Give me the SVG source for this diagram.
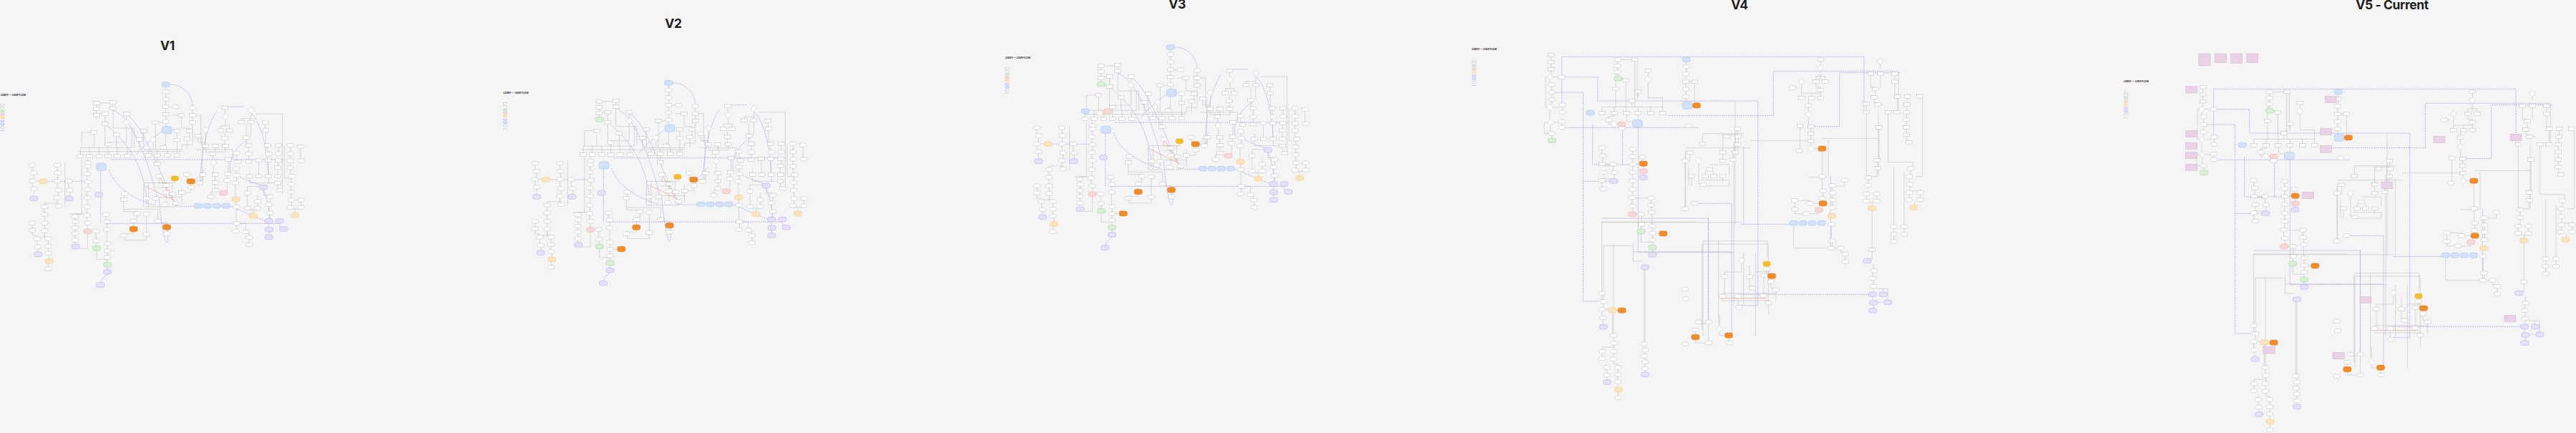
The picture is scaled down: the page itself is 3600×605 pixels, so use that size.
<svg xmlns="http://www.w3.org/2000/svg" xmlns:xlink="http://www.w3.org/1999/xlink" width="3600" height="605" viewBox="0 0 3600 605">
<defs>
<style>
.n{fill:#fff;stroke:#a2a2a2;stroke-width:1.1}
.g{fill:none;stroke:#acacac;stroke-width:1.3}
.p{fill:none;stroke:#a79fe4;stroke-width:2.2;stroke-dasharray:6 3}
.o{fill:none;stroke:#e79272;stroke-width:1.6}
.bl{fill:#d3e2fb;stroke:#8fb1ec;stroke-width:1.2}
.pu{fill:#e6e0fb;stroke:#a596e8;stroke-width:1.2}
.og{fill:#f28c28;stroke:#e0761a;stroke-width:1.2}
.lo{fill:#fde4bd;stroke:#f1bd6c;stroke-width:1.2}
.gr{fill:#d9f0d7;stroke:#89c787;stroke-width:1.2}
.pk{fill:#f9d6d8;stroke:#e6a0a6;stroke-width:1.2}
.ye{fill:#f5bd28;stroke:#e0a716;stroke-width:1.2}
.nt{fill:#ead2e6;stroke:#cfa9c9;stroke-width:1.2}
.tt{font-family:Inter,"Liberation Sans",sans-serif;font-weight:700;font-size:17.5px;letter-spacing:-0.4px;fill:#1e1e1e;text-anchor:middle}
.lt{font-family:Inter,"Liberation Sans",sans-serif;font-weight:700;font-size:10px;fill:#333}
</style>
<rect id="sR" class="n" x="-13" y="-7" width="26" height="14"/>
<rect id="sE" class="n" x="-14" y="-8" width="28" height="16" rx="7"/>
<polygon id="sD" class="n" points="0,-14 14,0 0,14 -14,0"/>
<rect id="sB" class="bl" x="-17" y="-10" width="34" height="20" rx="9"/>
<rect id="sBB" class="bl" x="-21" y="-15" width="42" height="30" rx="10"/>
<rect id="sU" class="pu" x="-17" y="-10" width="34" height="20" rx="9"/>
<rect id="sO" class="og" x="-17" y="-11" width="34" height="22" rx="9"/>
<rect id="sL" class="lo" x="-17" y="-10" width="34" height="20" rx="9"/>
<rect id="sG" class="gr" x="-17" y="-10" width="34" height="20" rx="9"/>
<rect id="sK" class="pk" x="-17" y="-10" width="34" height="20" rx="9"/>
<rect id="sY" class="ye" x="-15" y="-10" width="30" height="20" rx="7"/>
</defs>
<rect width="3600" height="605" fill="#f5f5f5"/>
<g id="titles">
<text class="tt" x="234" y="70">V1</text>
<text class="tt" x="941" y="39">V2</text>
<text class="tt" x="1645" y="12">V3</text>
<text class="tt" x="2431" y="13">V4</text>
<text class="tt" x="3343" y="13">V5 - Current</text>
</g>

<g id="v2" transform="translate(690,20) scale(0.33333)">
<g id="v2-connectors">
<path class="g" d="M733,297V310M733,326V341M733,357V374M733,388V405M733,419V435M733,451V463M747,381H761M845,393V409M845,423V440M798,423V470H832V475M832,489V507H822M780,489V513M780,527V560M822,521V560M733,493V560M640,560H800M660,560V578M698,560V578M740,560V578M780,560V578M698,592V613M690,454V560M640,489V560M623,525V560M680,532V560M723,545V540H733M705,447H733M845,454V540H800V560M760,416H785M860,416H880V540"/>
<path class="g" d="M442,372V383M442,397V408M442,422V433M512,369V380M478,417V445M455,410H465M568,417V432M568,460V530H490M375,552H590M375,552V581M413,552V581M453,552V581M491,552V581M530,552V581M571,552V581M432,495V552M526,505V552M490,545V552M512,394V470H600V552M478,459V540M370,568H800M455,365H499M420,488H380V552M590,552V470"/>
<path class="g" d="M981,392V408M983,436V460H963V473M983,460H1000V473M980,487V506M900,492V538M885,505V690M868,509V530H900M900,552V570H930M940,552V570M983,552V570H930M930,585V601M933,629V658M888,672V690H875M940,672V691M940,705V723M940,737H922V750M995,609V655M993,669V683M990,697V735H975M980,520V540H983M860,560H1015V600"/>
<path class="g" d="M1091,409V430H1050V438M1091,430H1090V438M1070,452V503M1070,517V536H1080M1080,550V571M1080,585V603M1090,452V503M1110,410H1222V742M1150,454V473M1152,487V536H1160M1160,550V571H1165M1205,550V570M1122,613V665M1162,613V665M1204,613V629M1202,643V665M1202,707V723H1212M1085,650V665M1085,679V700H1202M1028,582V605H1035M1028,647V661M1030,675V693M1025,707V761M1027,776V793M1028,807V863M1030,877V895M1030,870H1068V898M1068,912H1083V921M1083,935V951"/>
<path class="g" d="M1255,550V570M1255,584V600M1255,614V630M1255,644V665H1262M1258,679V698M1258,712V731M1258,745V765M1260,779V795M1300,779V795M1297,555V600M1275,809V825M1255,809H1300M1280,772H1300V765M1280,543H1297M1230,543V680H1262M1142,728V750H1170M1170,765V783M1165,797V819M1170,833V852M1165,870V888M1166,902V920M1210,870V885H1227M1075,749V799M1118,784V799M1075,813H1118M1100,813V830M1075,735V715H1140M1118,770V750"/>
<path class="g" d="M705,680V700H735V703M735,717V733M652,772V790M690,772V788M640,705V800M660,700V800M800,715V790M760,700V760M700,760H800M640,700H770M771,690V700M838,703V740H800M820,672V686H838M854,693H875M735,747V783M775,792V800H640M700,720H740M560,752V763M556,777V820H613M613,835V852H598M598,867V885M598,901V912H556M652,837V908M700,867H737V877M556,810H700V853M737,895V905M652,923V940H560V927"/>
<path class="g" d="M173,632V651M180,665V685M173,699V718M180,732V758M278,632V651M280,665V685M278,699V723H283M283,737V755M325,699V723H330M330,737V758H328M187,692H202M173,625H160M224,807V825M224,839V861M225,875V893M173,875V891M193,941V961H197M240,941V958M197,975V992M240,972V988M244,1002V1021M240,1035V1053M278,769V790H283M310,615V800M224,793V785H283M224,915V927H193M225,907V927H240M173,905V920H193M405,637V655M403,669V688M407,702V721M403,735V755M405,769V793M403,807V828M401,842V861M405,875V895M405,910V975H370M353,847V855M355,869V881M353,895V905M353,919V933M353,947V958M330,830H405M486,869V888M482,839V855M486,902V948M488,962V978M488,992V1005M488,1019V1036M488,1053V1066M440,909V936M442,950V966M443,983V1020H488M502,984H518M380,600V830H353M405,623V600"/>
<path class="p" d="M500,602H1230M480,870H1210M750,287C800,285 845,330 845,378M478,452C560,520 630,600 652,758M512,395C600,430 660,620 700,770M578,420C640,470 700,640 770,782M495,645C520,720 600,770 690,795M740,462C700,500 640,540 610,580M705,770C712,860 728,950 737,950C746,950 742,880 737,870M1005,655C990,590 1040,540 1080,515M1095,410C1140,470 1160,560 1165,700M1142,728C1160,780 1172,820 1165,852M1000,796C1060,820 1120,850 1150,858M945,400C900,470 880,590 878,690M233,693H390M460,648V870M459,1117C470,1095 480,1090 488,1083M1142,718C1120,700 1060,690 1040,670M990,380H1060M840,700C860,690 880,660 900,640M860,796C820,800 780,800 760,790"/>
<path class="o" d="M650,715L770,775M710,680L760,770"/>
</g>
<g id="v2-nodes">
<use id="a1" href="#sB" x="733" y="287"/><use id="a2" href="#sE" x="733" y="318"/><use id="a3" href="#sE" x="733" y="349"/><use id="a4" href="#sR" x="733" y="381"/><use id="a5" href="#sE" x="775" y="381"/><use id="a6" href="#sR" x="733" y="412"/><use id="a7" href="#sE" x="733" y="443"/><use id="a8" href="#sBB" x="738" y="478"/><use id="a9" href="#sE" x="845" y="385"/><use id="a10" href="#sR" x="845" y="416"/><use id="a11" href="#sR" x="845" y="447"/><use id="a12" href="#sR" x="798" y="416"/><use id="a13" href="#sR" x="832" y="482"/><use id="a14" href="#sR" x="822" y="514"/><use id="a15" href="#sR" x="780" y="482"/><use id="a16" href="#sR" x="780" y="520"/><use id="a17" href="#sR" x="690" y="447"/><use id="a18" href="#sR" x="640" y="482"/><use id="a19" href="#sD" x="680" y="518"/><use id="a20" href="#sR" x="623" y="518"/><use id="a21" href="#sR" x="723" y="552"/><use id="a22" href="#sR" x="660" y="585"/><use id="a23" href="#sR" x="698" y="585"/><use id="a24" href="#sR" x="740" y="585"/><use id="a25" href="#sR" x="780" y="585"/><use id="a26" href="#sR" x="698" y="620"/>
<use id="a27" href="#sR" x="442" y="365"/><use id="a28" href="#sR" x="512" y="362"/><use id="a29" href="#sR" x="442" y="390"/><use id="a30" href="#sR" x="512" y="387"/><use id="a31" href="#sR" x="442" y="415"/><use id="a32" href="#sR" x="478" y="410"/><use id="a33" href="#sR" x="478" y="452"/><use id="a34" href="#sR" x="568" y="410"/><use id="a35" href="#sD" x="568" y="446"/><use id="a36" href="#sR" x="432" y="488"/><use id="a37" href="#sR" x="526" y="498"/><use id="a38" href="#sR" x="490" y="538"/><use id="a39" href="#sR" x="375" y="588"/><use id="a40" href="#sR" x="413" y="588"/><use id="a41" href="#sR" x="453" y="588"/><use id="a42" href="#sR" x="491" y="588"/><use id="a43" href="#sR" x="530" y="588"/><use id="a44" href="#sR" x="571" y="588"/><use id="a45" href="#sE" x="407" y="615"/>
<use id="a46" href="#sR" x="981" y="385"/><use id="a47" href="#sD" x="983" y="422"/><use id="a48" href="#sR" x="963" y="480"/><use id="a49" href="#sR" x="1000" y="480"/><use id="a50" href="#sR" x="980" y="513"/><use id="a51" href="#sD" x="900" y="478"/><use id="a52" href="#sR" x="868" y="502"/><use id="a53" href="#sR" x="900" y="545"/><use id="a54" href="#sR" x="940" y="545"/><use id="a55" href="#sR" x="983" y="545"/><use id="a56" href="#sR" x="930" y="578"/><use id="a57" href="#sD" x="933" y="615"/><use id="a58" href="#sR" x="888" y="665"/><use id="a59" href="#sR" x="940" y="665"/><use id="a60" href="#sR" x="940" y="698"/><use id="a61" href="#sR" x="940" y="730"/><use id="a62" href="#sE" x="922" y="758"/><use id="a63" href="#sE" x="875" y="700"/><use id="a64" href="#sR" x="995" y="602"/><use id="a65" href="#sR" x="993" y="662"/><use id="a66" href="#sE" x="990" y="690"/><use id="a67" href="#sK" x="975" y="742"/><use id="a68" href="#sE" x="1028" y="575"/><use id="a69" href="#sR" x="1035" y="612"/><use id="a70" href="#sE" x="1028" y="640"/><use id="a71" href="#sE" x="1030" y="668"/><use id="a72" href="#sE" x="1025" y="700"/><use id="a73" href="#sL" x="1027" y="768"/><use id="a74" href="#sE" x="1028" y="800"/><use id="a75" href="#sE" x="1030" y="870"/><use id="a76" href="#sE" x="1027" y="902"/>
<use id="a77" href="#sD" x="1091" y="395"/><use id="a78" href="#sR" x="1050" y="445"/><use id="a79" href="#sR" x="1090" y="445"/><use id="a80" href="#sR" x="1070" y="510"/><use id="a81" href="#sR" x="1080" y="543"/><use id="a82" href="#sE" x="1080" y="578"/><use id="a83" href="#sR" x="1080" y="610"/><use id="a84" href="#sR" x="1150" y="447"/><use id="a85" href="#sR" x="1152" y="480"/><use id="a86" href="#sR" x="1160" y="543"/><use id="a87" href="#sR" x="1205" y="543"/><use id="a88" href="#sE" x="1165" y="578"/><use id="a89" href="#sE" x="1205" y="577"/><use id="a90" href="#sR" x="1122" y="606"/><use id="a91" href="#sR" x="1162" y="606"/><use id="a92" href="#sR" x="1204" y="606"/><use id="a93" href="#sR" x="1085" y="672"/><use id="a94" href="#sR" x="1124" y="672"/><use id="a95" href="#sR" x="1163" y="672"/><use id="a96" href="#sR" x="1203" y="672"/><use id="a97" href="#sR" x="1202" y="636"/><use id="a98" href="#sR" x="1202" y="700"/><use id="a99" href="#sR" x="1212" y="730"/>
<use id="a100" href="#sE" x="1255" y="543"/><use id="a101" href="#sE" x="1297" y="548"/><use id="a102" href="#sE" x="1255" y="577"/><use id="a103" href="#sE" x="1300" y="607"/><use id="a104" href="#sE" x="1255" y="607"/><use id="a105" href="#sE" x="1255" y="637"/><use id="a106" href="#sE" x="1262" y="672"/><use id="a107" href="#sE" x="1258" y="705"/><use id="a108" href="#sE" x="1258" y="738"/><use id="a109" href="#sE" x="1260" y="772"/><use id="a110" href="#sE" x="1300" y="772"/><use id="a111" href="#sE" x="1255" y="802"/><use id="a112" href="#sE" x="1300" y="802"/><use id="a113" href="#sL" x="1275" y="835"/>
<use id="a114" href="#sU" x="1142" y="718"/><use id="a115" href="#sE" x="1170" y="758"/><use id="a116" href="#sE" x="1165" y="790"/><use id="a117" href="#sE" x="1170" y="826"/><use id="a118" href="#sU" x="1165" y="860"/><use id="a119" href="#sU" x="1210" y="860"/><use id="a120" href="#sU" x="1166" y="895"/><use id="a121" href="#sU" x="1227" y="893"/><use id="a122" href="#sU" x="1165" y="927"/><use id="a123" href="#sE" x="1075" y="742"/><use id="a124" href="#sE" x="1118" y="777"/><use id="a125" href="#sE" x="1075" y="806"/><use id="a126" href="#sE" x="1118" y="806"/><use id="a127" href="#sL" x="1100" y="838"/><use id="a128" href="#sE" x="1068" y="905"/><use id="a129" href="#sE" x="1083" y="928"/><use id="a130" href="#sE" x="1083" y="958"/>
<use id="a131" href="#sB" x="869" y="796"/><use id="a132" href="#sB" x="907" y="796"/><use id="a133" href="#sB" x="946" y="796"/><use id="a134" href="#sB" x="985" y="796"/>
<use id="a135" href="#sE" x="705" y="672"/><use id="a136" href="#sY" x="771" y="681"/><use id="a137" href="#sO" x="838" y="693"/><use id="a138" href="#sE" x="820" y="665"/><use id="a139" href="#sR" x="735" y="710"/><use id="a140" href="#sE" x="735" y="740"/><use id="a141" href="#sE" x="690" y="765"/><use id="a142" href="#sR" x="652" y="765"/><use id="a143" href="#sE" x="730" y="790"/><use id="a144" href="#sE" x="775" y="785"/><use id="a145" href="#sR" x="762" y="745"/><use id="a146" href="#sR" x="800" y="740"/><use id="a147" href="#sE" x="840" y="718"/><use id="a148" href="#sE" x="560" y="745"/><use id="a149" href="#sR" x="556" y="770"/><use id="a150" href="#sE" x="613" y="828"/><use id="a151" href="#sE" x="652" y="830"/><use id="a152" href="#sE" x="598" y="860"/><use id="a153" href="#sO" x="598" y="893"/><use id="a154" href="#sE" x="556" y="920"/><use id="a155" href="#sE" x="652" y="915"/><use id="a156" href="#sE" x="700" y="860"/><use id="a157" href="#sO" x="737" y="885"/><use id="a158" href="#sE" x="737" y="913"/>
<use id="a159" href="#sE" x="173" y="625"/><use id="a160" href="#sE" x="278" y="625"/><use id="a161" href="#sE" x="180" y="658"/><use id="a162" href="#sE" x="280" y="658"/><use id="a163" href="#sE" x="173" y="692"/><use id="a164" href="#sL" x="219" y="693"/><use id="a165" href="#sE" x="278" y="692"/><use id="a166" href="#sE" x="325" y="692"/><use id="a167" href="#sE" x="180" y="725"/><use id="a168" href="#sE" x="283" y="730"/><use id="a169" href="#sE" x="330" y="730"/><use id="a170" href="#sU" x="180" y="765"/><use id="a171" href="#sE" x="278" y="762"/><use id="a172" href="#sU" x="328" y="765"/><use id="a173" href="#sE" x="283" y="797"/><use id="a174" href="#sE" x="224" y="800"/><use id="a175" href="#sE" x="224" y="832"/><use id="a176" href="#sE" x="225" y="868"/><use id="a177" href="#sE" x="173" y="868"/><use id="a178" href="#sE" x="173" y="898"/><use id="a179" href="#sE" x="225" y="900"/><use id="a180" href="#sE" x="193" y="934"/><use id="a181" href="#sE" x="240" y="934"/><use id="a182" href="#sE" x="197" y="968"/><use id="a183" href="#sE" x="240" y="965"/><use id="a184" href="#sU" x="197" y="999"/><use id="a185" href="#sE" x="240" y="995"/><use id="a186" href="#sL" x="244" y="1028"/><use id="a187" href="#sE" x="240" y="1060"/>
<use id="a188" href="#sE" x="405" y="630"/><use id="a189" href="#sE" x="403" y="662"/><use id="a190" href="#sE" x="407" y="695"/><use id="a191" href="#sE" x="403" y="728"/><use id="a192" href="#sE" x="405" y="762"/><use id="a193" href="#sE" x="403" y="800"/><use id="a194" href="#sE" x="401" y="835"/><use id="a195" href="#sE" x="405" y="868"/><use id="a196" href="#sK" x="405" y="903"/><use id="a197" href="#sBB" x="462" y="633"/><use id="a198" href="#sU" x="452" y="749"/><use id="a199" href="#sE" x="353" y="840"/><use id="a200" href="#sE" x="355" y="862"/><use id="a201" href="#sE" x="353" y="888"/><use id="a202" href="#sE" x="353" y="912"/><use id="a203" href="#sE" x="353" y="940"/><use id="a204" href="#sU" x="355" y="966"/><use id="a205" href="#sE" x="482" y="832"/><use id="a206" href="#sE" x="486" y="862"/><use id="a207" href="#sE" x="486" y="895"/><use id="a208" href="#sE" x="440" y="902"/><use id="a209" href="#sE" x="442" y="943"/><use id="a210" href="#sG" x="443" y="973"/><use id="a211" href="#sE" x="488" y="955"/><use id="a212" href="#sE" x="488" y="985"/><use id="a213" href="#sE" x="488" y="1012"/><use id="a214" href="#sG" x="488" y="1043"/><use id="a215" href="#sU" x="488" y="1073"/><use id="a216" href="#sU" x="459" y="1127"/>
</g>
<g id="v2-legend">
<text class="lt" x="40" y="334">LOBBY — USER FLOW</text>
<rect class="n" x="40" y="371" width="16" height="8"/>
<rect class="n" x="40" y="384" width="16" height="8" rx="4"/>
<rect class="gr" x="40" y="397" width="16" height="8" rx="3"/>
<rect class="pk" x="40" y="410" width="16" height="8" rx="3"/>
<rect class="lo" x="40" y="423" width="16" height="8" rx="3"/>
<rect class="pu" x="40" y="437" width="16" height="8" rx="3"/>
<rect class="bl" x="40" y="450" width="16" height="8" rx="3"/>
<rect class="n" x="40" y="463" width="16" height="8" rx="4"/>
<path class="p" d="M40,480H56"/>
</g>
</g>
<use id="v1" href="#v2" transform="translate(-702.6,2.3)"/>
<use id="v3" href="#v2" transform="translate(701.4,-49.7)"/>
<g id="v2-extra" transform="translate(690,20) scale(0.33333)">
<use id="b1" href="#sG" x="443" y="441"/><use id="b2" href="#sO" x="535" y="984"/>
</g>
<g id="v3-extra" transform="translate(1391.4,-29.7) scale(0.33333)">
<use id="c1" href="#sG" x="443" y="441"/><use id="c2" href="#sO" x="535" y="984"/><use id="c3" href="#sB" x="376" y="555"/><use id="c4" href="#sK" x="469" y="555"/><use id="c5" href="#sD" x="436" y="564"/>
</g>

<g id="v4" transform="translate(2040,60) scale(0.33333)">
<g id="v4-connectors">
<path class="g" d="M383,57V73M383,87V103M383,117V129M378,157V167M392,143H414M386,182V199M386,215V230M386,246V256M392,270H416M430,267V282M378,284V319M394,333H414M428,338V346M380,347V372M386,387V399M370,143H360V270H364M366,333H355V380H372"/>
<path class="g" d="M662,77V88M662,104V114M662,130V139M680,149H684V157M676,70H721M734,77V268M745,77V236M790,123V138M790,166V230H851V268M654,186V130H662M654,200V268M697,164V268M748,211V225M722,250V268M596,268H851M596,268V287M648,268V287M698,268V287M748,268V287M800,268V287M851,268V287M625,316V308H648V301M625,330V340H633M700,301V330H724M748,301V323M950,80V92M950,108V122M948,137V156M948,170V187M948,201V218M948,232V247M962,163H972M985,170V250H993"/>
<path class="g" d="M1165,367V385M1168,399V418M1121,399V385H1165M1018,380H1190M1018,380V415M1103,380V451M1155,380V451M1103,465V487M1145,465V484M1048,510H1130V553M1065,537V553M1030,537V555M1002,509V590H1021M1010,575H1130V600H1021M1102,580V553M949,440H1217M945,467V488M965,467V500M960,520V600M945,502V688M972,566V600M1165,432V470M1190,432V760"/>
<path class="g" d="M596,750H990M596,750V1043M603,850H720M603,850V1077M645,840V1218M727,840V915H770M726,875H1136M593,752H1180M1042,731V1170M1149,420V1095M1294,849V1090M1016,843V1202M947,452V699M1023,843H1294M772,950V1255M777,950V1380"/>
<path class="g" d="M596,447V466M600,480V501M597,515H643M603,550V570M596,584V605M610,508H629M725,452V469M725,483V501M725,515V535M725,549V571M725,585V606M725,620V641M722,655V677M726,691V711M737,718H746M802,657V673M802,687H805V703M805,717V760M762,725V753M760,767V780M808,774V790M808,804V819M808,833V847M808,867V878M760,800V835H808M824,799H836M770,517V528M770,548V554M740,508H753M766,485V495M739,650H788M643,515V535M648,550V570H603"/>
<path class="g" d="M596,1057V1076M603,1091V1109M596,1124V1144M600,1159V1180M611,1117H623M657,1120H663M645,1233V1251M647,1266V1285M645,1300V1317M597,1300V1315M597,1286V1275H647M645,1332V1345H663V1352M615,1345V1352M615,1367V1384M663,1367V1382M618,1399V1412M663,1397V1412M663,1427V1443M665,1463V1479M640,1130V1218M603,1077H586"/>
<path class="g" d="M1513,77V91M1512,119V155M1494,140H1532M1494,140V155M1532,140V155M1433,176V223M1494,169V185H1513V190M1513,204V223M1475,210V223M1434,210H1513M1462,237V255M1462,269V285M1462,313V343H1473M1472,357V373M1472,387V403M1472,417V429M1488,443H1502M1519,453V553M1427,355V445M1520,567V613M1523,627V644M1520,658V666M1563,605V621M1563,635V651M1563,665V683M1558,767V823M1562,837V853M1575,860H1597M1597,867V878H1617M1617,892V910M1405,668V690M1419,661H1467V666M1481,673H1506M1506,710V716H1467M1405,704V716H1439M1463,563H1540M1613,582V600H1577M1220,410H1465M1520,400H1755M1755,290V560M1155,245V760M1395,188H1420M1540,410H1545V560M1400,770V860H1560"/>
<path class="g" d="M1763,91V110M1723,137V186H1743M1764,135V186M1743,200V221H1737M1737,235V251H1753M1705,262V283M1705,297V558H1713M1713,572V590M1713,604V626H1705M1705,640V656M1748,640V656M1705,670H1748M1729,670V683M1729,703V859M1729,873V905H1708M1735,925V948M1732,962V980M1734,994V1013M1734,1027V1044M1731,1064V1079M1735,1099V1112M1795,1030V1077M1748,1030H1795M1776,1030V1044M1751,1087H1778M1824,137V156M1824,170V218H1835M1835,232V283M1877,232V251M1875,265V283M1873,297V315M1873,329V347M1873,361V378M1873,392V409H1883M1796,297V500H1900V520M1758,361V485H1750M1753,499V518M1750,532V560H1713M1890,534V553M1885,567V585M1887,599V620M1931,612V620H1887M1885,634V650M1931,634V650M1907,664V683M1940,232V560H1910M1820,777V795M1863,777V795M1820,809V825M1820,520V763M1863,540V763M1840,118V290M1753,258H1778M1747,128H1764M1808,128H1824"/>
<path class="g" d="M1181,922V960H1110V973M1215,987V1021H1228M1287,936V941M1287,955V968H1308M1275,982V1053M1305,1007V1028H1325M1102,1069V1080H1300M1168,1069V1101M1295,1097V1140M1110,987V1055M1325,1042V1080M1100,1050H1325M1215,930V973M1240,960H1300M1002,1177H1043M988,1210V1225M1043,1177V1250M1090,1214V1226H1115M1128,1236V1250M988,1241V1257H1043M1090,1186V1140M1190,880V1100M1240,880V1230M1020,830H1290V900M1020,830V1230M1085,830V1180"/>
<path class="o" d="M1090,1070H1285"/>
<path class="p" d="M428,250V58H1695V290M1835,118H1315V305H871M578,143V243H1250V1100H1180M445,143H578M400,207H517V1083H586M557,343V510H712M445,355H1000M683,360V510M517,580H629M748,350V878H1150M596,735H1043V1170M985,673H1140V1226M1180,760H1383M1170,1054H1714M1555,560V860M1470,350H1592V125H1850"/>
</g>
<g id="v4-nodes">
<use id="d1" href="#sR" x="383" y="50"/><use id="d2" href="#sR" x="383" y="80"/><use id="d3" href="#sR" x="383" y="110"/><use id="d4" href="#sD" x="378" y="143"/><use id="d5" href="#sE" x="428" y="143"/><use id="d6" href="#sE" x="386" y="175"/><use id="d7" href="#sE" x="386" y="207"/><use id="d8" href="#sE" x="386" y="238"/><use id="d9" href="#sD" x="378" y="270"/><use id="d10" href="#sE" x="430" y="260"/><use id="d11" href="#sE" x="430" y="290"/><use id="d12" href="#sD" x="380" y="333"/><use id="d13" href="#sE" x="428" y="330"/><use id="d14" href="#sE" x="428" y="354"/><use id="d15" href="#sE" x="386" y="380"/><use id="d16" href="#sG" x="387" y="409"/>
<use id="d17" href="#sE" x="662" y="70"/><use id="d18" href="#sR" x="734" y="70"/><use id="d19" href="#sE" x="662" y="96"/><use id="d20" href="#sE" x="662" y="122"/><use id="d21" href="#sG" x="663" y="149"/><use id="d22" href="#sR" x="697" y="157"/><use id="d23" href="#sR" x="654" y="193"/><use id="d24" href="#sR" x="790" y="116"/><use id="d25" href="#sD" x="790" y="152"/><use id="d26" href="#sR" x="748" y="204"/><use id="d27" href="#sR" x="722" y="243"/>
<use id="d28" href="#sB" x="548" y="293"/><use id="d29" href="#sR" x="596" y="294"/><use id="d30" href="#sR" x="648" y="294"/><use id="d31" href="#sR" x="698" y="294"/><use id="d32" href="#sR" x="748" y="294"/><use id="d33" href="#sR" x="800" y="294"/><use id="d34" href="#sR" x="851" y="294"/><use id="d35" href="#sE" x="625" y="323"/><use id="d36" href="#sD" x="647" y="340"/><use id="d37" href="#sK" x="679" y="341"/><use id="d38" href="#sE" x="680" y="358"/><use id="d39" href="#sBB" x="745" y="338"/>
<use id="d40" href="#sB" x="950" y="70"/><use id="d41" href="#sE" x="950" y="100"/><use id="d42" href="#sE" x="948" y="130"/><use id="d43" href="#sR" x="948" y="163"/><use id="d44" href="#sR" x="985" y="163"/><use id="d45" href="#sE" x="948" y="194"/><use id="d46" href="#sE" x="948" y="225"/><use id="d47" href="#sBB" x="954" y="262"/><use id="d48" href="#sO" x="993" y="262"/>
<use id="d49" href="#sR" x="1165" y="360"/><use id="d50" href="#sR" x="1168" y="392"/><use id="d51" href="#sR" x="1165" y="425"/><use id="d52" href="#sR" x="1121" y="392"/><use id="d53" href="#sR" x="1018" y="422"/><use id="d54" href="#sR" x="1103" y="458"/><use id="d55" href="#sR" x="1155" y="458"/><use id="d56" href="#sR" x="1103" y="494"/><use id="d57" href="#sR" x="1145" y="490"/><use id="d58" href="#sD" x="1002" y="495"/><use id="d59" href="#sR" x="1048" y="530"/><use id="d60" href="#sR" x="972" y="559"/><use id="d61" href="#sR" x="1030" y="559"/><use id="d62" href="#sR" x="1065" y="559"/><use id="d63" href="#sR" x="1103" y="559"/><use id="d64" href="#sR" x="1021" y="595"/><use id="d65" href="#sE" x="985" y="673"/><use id="d66" href="#sR" x="965" y="460"/><use id="d67" href="#sE" x="945" y="495"/><use id="d68" href="#sE" x="945" y="695"/><use id="d69" href="#sE" x="960" y="348"/>
<use id="d70" href="#sE" x="596" y="440"/><use id="d71" href="#sE" x="725" y="445"/><use id="d72" href="#sE" x="600" y="473"/><use id="d73" href="#sE" x="725" y="476"/><use id="d74" href="#sR" x="597" y="508"/><use id="d75" href="#sE" x="643" y="508"/><use id="d76" href="#sE" x="725" y="508"/><use id="d77" href="#sO" x="770" y="506"/><use id="d78" href="#sE" x="766" y="478"/><use id="d79" href="#sK" x="770" y="538"/><use id="d80" href="#sE" x="603" y="543"/><use id="d81" href="#sE" x="648" y="543"/><use id="d82" href="#sE" x="725" y="542"/><use id="d83" href="#sE" x="596" y="577"/><use id="d84" href="#sU" x="646" y="579"/><use id="d85" href="#sU" x="770" y="564"/><use id="d86" href="#sE" x="725" y="578"/><use id="d87" href="#sE" x="603" y="612"/><use id="d88" href="#sE" x="725" y="613"/><use id="d89" href="#sE" x="722" y="648"/><use id="d90" href="#sE" x="802" y="650"/><use id="d91" href="#sE" x="726" y="684"/><use id="d92" href="#sE" x="802" y="680"/><use id="d93" href="#sE" x="805" y="710"/><use id="d94" href="#sK" x="723" y="718"/><use id="d95" href="#sE" x="760" y="718"/><use id="d96" href="#sE" x="762" y="760"/><use id="d97" href="#sE" x="808" y="767"/><use id="d98" href="#sG" x="760" y="790"/><use id="d99" href="#sE" x="808" y="797"/><use id="d100" href="#sO" x="853" y="799"/><use id="d101" href="#sE" x="808" y="826"/><use id="d102" href="#sG" x="808" y="857"/><use id="d103" href="#sU" x="808" y="888"/><use id="d104" href="#sU" x="777" y="940"/>
<use id="d105" href="#sE" x="596" y="1050"/><use id="d106" href="#sE" x="603" y="1084"/><use id="d107" href="#sE" x="596" y="1117"/><use id="d108" href="#sL" x="640" y="1120"/><use id="d109" href="#sO" x="680" y="1121"/><use id="d110" href="#sE" x="600" y="1152"/><use id="d111" href="#sU" x="602" y="1190"/><use id="d112" href="#sE" x="645" y="1226"/><use id="d113" href="#sE" x="647" y="1259"/><use id="d114" href="#sE" x="597" y="1293"/><use id="d115" href="#sE" x="645" y="1293"/><use id="d116" href="#sE" x="597" y="1323"/><use id="d117" href="#sE" x="645" y="1325"/><use id="d118" href="#sE" x="615" y="1360"/><use id="d119" href="#sE" x="663" y="1360"/><use id="d120" href="#sE" x="618" y="1392"/><use id="d121" href="#sE" x="663" y="1390"/><use id="d122" href="#sU" x="618" y="1422"/><use id="d123" href="#sE" x="663" y="1420"/><use id="d124" href="#sL" x="665" y="1453"/><use id="d125" href="#sE" x="663" y="1487"/>
<use id="d126" href="#sE" x="772" y="1262"/><use id="d127" href="#sE" x="777" y="1287"/><use id="d128" href="#sE" x="773" y="1312"/><use id="d129" href="#sE" x="777" y="1337"/><use id="d130" href="#sE" x="777" y="1365"/><use id="d131" href="#sU" x="777" y="1390"/><use id="d132" href="#sE" x="945" y="1032"/><use id="d133" href="#sE" x="948" y="1072"/><use id="d134" href="#sE" x="945" y="1262"/>
<use id="d135" href="#sR" x="1513" y="70"/><use id="d136" href="#sD" x="1512" y="105"/><use id="d137" href="#sR" x="1494" y="162"/><use id="d138" href="#sR" x="1532" y="162"/><use id="d139" href="#sD" x="1433" y="162"/><use id="d140" href="#sE" x="1395" y="188"/><use id="d141" href="#sR" x="1513" y="197"/><use id="d142" href="#sR" x="1434" y="230"/><use id="d143" href="#sR" x="1475" y="230"/><use id="d144" href="#sR" x="1513" y="230"/><use id="d145" href="#sR" x="1462" y="262"/><use id="d146" href="#sD" x="1462" y="299"/><use id="d147" href="#sR" x="1427" y="348"/><use id="d148" href="#sR" x="1473" y="350"/><use id="d149" href="#sR" x="1472" y="380"/><use id="d150" href="#sR" x="1472" y="410"/><use id="d151" href="#sD" x="1474" y="443"/><use id="d152" href="#sO" x="1519" y="443"/><use id="d153" href="#sE" x="1422" y="452"/>
<use id="d154" href="#sE" x="1520" y="560"/><use id="d155" href="#sE" x="1613" y="575"/><use id="d156" href="#sE" x="1563" y="598"/><use id="d157" href="#sE" x="1523" y="620"/><use id="d158" href="#sE" x="1563" y="628"/><use id="d159" href="#sE" x="1520" y="651"/><use id="d160" href="#sE" x="1563" y="658"/><use id="d161" href="#sE" x="1405" y="661"/><use id="d162" href="#sE" x="1467" y="673"/><use id="d163" href="#sO" x="1523" y="673"/><use id="d164" href="#sK" x="1506" y="700"/><use id="d165" href="#sE" x="1405" y="697"/><use id="d166" href="#sE" x="1453" y="716"/><use id="d167" href="#sE" x="1563" y="690"/><use id="d168" href="#sL" x="1560" y="725"/><use id="d169" href="#sE" x="1558" y="760"/>
<use id="d170" href="#sB" x="1400" y="755"/><use id="d171" href="#sB" x="1439" y="755"/><use id="d172" href="#sB" x="1478" y="755"/><use id="d173" href="#sB" x="1517" y="755"/><use id="d174" href="#sE" x="1562" y="830"/><use id="d175" href="#sE" x="1557" y="860"/><use id="d176" href="#sE" x="1597" y="860"/><use id="d177" href="#sE" x="1617" y="885"/><use id="d178" href="#sE" x="1617" y="917"/>
<use id="d179" href="#sD" x="1763" y="77"/><use id="d180" href="#sR" x="1723" y="130"/><use id="d181" href="#sR" x="1764" y="128"/><use id="d182" href="#sR" x="1824" y="130"/><use id="d183" href="#sR" x="1824" y="163"/><use id="d184" href="#sR" x="1743" y="193"/><use id="d185" href="#sR" x="1737" y="228"/><use id="d186" href="#sR" x="1753" y="258"/><use id="d187" href="#sR" x="1705" y="255"/><use id="d188" href="#sR" x="1705" y="290"/><use id="d189" href="#sR" x="1835" y="225"/><use id="d190" href="#sR" x="1877" y="225"/><use id="d191" href="#sR" x="1928" y="225"/><use id="d192" href="#sR" x="1875" y="258"/><use id="d193" href="#sR" x="1796" y="290"/><use id="d194" href="#sR" x="1833" y="290"/><use id="d195" href="#sR" x="1873" y="290"/><use id="d196" href="#sR" x="1873" y="322"/><use id="d197" href="#sR" x="1873" y="354"/><use id="d198" href="#sR" x="1873" y="385"/><use id="d199" href="#sR" x="1883" y="416"/><use id="d200" href="#sR" x="1758" y="354"/><use id="d201" href="#sR" x="1750" y="492"/><use id="d202" href="#sR" x="1753" y="525"/>
<use id="d203" href="#sE" x="1713" y="565"/><use id="d204" href="#sE" x="1713" y="597"/><use id="d205" href="#sE" x="1705" y="633"/><use id="d206" href="#sE" x="1748" y="633"/><use id="d207" href="#sE" x="1705" y="663"/><use id="d208" href="#sE" x="1748" y="663"/><use id="d209" href="#sL" x="1729" y="693"/><use id="d210" href="#sE" x="1890" y="527"/><use id="d211" href="#sE" x="1885" y="560"/><use id="d212" href="#sE" x="1887" y="592"/><use id="d213" href="#sE" x="1885" y="627"/><use id="d214" href="#sE" x="1931" y="627"/><use id="d215" href="#sE" x="1883" y="657"/><use id="d216" href="#sE" x="1930" y="657"/><use id="d217" href="#sL" x="1903" y="690"/>
<use id="d218" href="#sE" x="1820" y="770"/><use id="d219" href="#sE" x="1863" y="770"/><use id="d220" href="#sE" x="1820" y="802"/><use id="d221" href="#sE" x="1863" y="802"/><use id="d222" href="#sE" x="1820" y="832"/>
<use id="d223" href="#sR" x="1729" y="866"/><use id="d224" href="#sU" x="1708" y="914"/><use id="d225" href="#sE" x="1737" y="955"/><use id="d226" href="#sE" x="1732" y="987"/><use id="d227" href="#sE" x="1734" y="1020"/><use id="d228" href="#sU" x="1731" y="1054"/><use id="d229" href="#sU" x="1776" y="1054"/><use id="d230" href="#sU" x="1735" y="1089"/><use id="d231" href="#sU" x="1795" y="1087"/><use id="d232" href="#sU" x="1732" y="1122"/>
<use id="d233" href="#sD" x="1181" y="912"/><use id="d234" href="#sY" x="1287" y="926"/><use id="d235" href="#sE" x="1287" y="948"/><use id="d236" href="#sO" x="1308" y="977"/><use id="d237" href="#sE" x="1110" y="980"/><use id="d238" href="#sE" x="1215" y="980"/><use id="d239" href="#sE" x="1275" y="975"/><use id="d240" href="#sE" x="1228" y="1028"/><use id="d241" href="#sE" x="1305" y="1000"/><use id="d242" href="#sE" x="1325" y="1035"/><use id="d243" href="#sE" x="1102" y="1062"/><use id="d244" href="#sE" x="1168" y="1062"/><use id="d245" href="#sE" x="1273" y="1060"/><use id="d246" href="#sE" x="1295" y="1090"/><use id="d247" href="#sE" x="1171" y="1108"/><use id="d248" href="#sE" x="1002" y="1170"/><use id="d249" href="#sE" x="1043" y="1170"/><use id="d250" href="#sE" x="988" y="1203"/><use id="d251" href="#sD" x="1090" y="1200"/><use id="d252" href="#sO" x="988" y="1233"/><use id="d253" href="#sO" x="1128" y="1226"/><use id="d254" href="#sE" x="1043" y="1257"/><use id="d255" href="#sE" x="1130" y="1257"/>
</g>
<g id="v4-legend">
<text class="lt" x="50" y="31">LOBBY — USER FLOW</text>
<rect class="n" x="52" y="66" width="16" height="8" rx="4"/>
<rect class="n" x="52" y="80" width="16" height="8"/>
<rect class="gr" x="52" y="93" width="16" height="8" rx="3"/>
<rect class="pk" x="52" y="107" width="16" height="8" rx="3"/>
<rect class="lo" x="52" y="120" width="16" height="8" rx="3"/>
<rect class="pu" x="52" y="134" width="16" height="8" rx="3"/>
<rect class="bl" x="52" y="147" width="16" height="8" rx="3"/>
<rect class="n" x="52" y="160" width="16" height="8" rx="4"/>
<path class="p" d="M52,178H68"/>
</g>
</g>
<use id="v5" href="#v4" transform="translate(911,45)"/>
<g id="v5-notes" transform="translate(2951,105) scale(0.33333)">
<rect class="nt" x="365" y="-90" width="49" height="50"/>
<rect class="nt" x="432" y="-90" width="50" height="38"/>
<rect class="nt" x="499" y="-90" width="49" height="40"/>
<rect class="nt" x="566" y="-90" width="48" height="38"/>
<rect class="nt" x="310" y="47" width="49" height="28"/>
<rect class="nt" x="310" y="232" width="49" height="28"/>
<rect class="nt" x="310" y="283" width="49" height="27"/>
<rect class="nt" x="310" y="322" width="49" height="28"/>
<rect class="nt" x="310" y="373" width="49" height="27"/>
<rect class="nt" x="895" y="88" width="48" height="28"/>
<rect class="nt" x="874" y="223" width="49" height="28"/>
<rect class="nt" x="874" y="295" width="49" height="30"/>
<rect class="nt" x="798" y="490" width="50" height="28"/>
<rect class="nt" x="635" y="1138" width="50" height="29"/>
<rect class="nt" x="927" y="1162" width="50" height="28"/>
<rect class="nt" x="1350" y="256" width="48" height="28"/>
<rect class="nt" x="1671" y="247" width="48" height="28"/>
<rect class="nt" x="1647" y="1006" width="48" height="28"/>
<rect class="nt" x="1131" y="448" width="48" height="28"/>
<rect class="nt" x="1041" y="928" width="48" height="28"/>
</g>
</svg>
